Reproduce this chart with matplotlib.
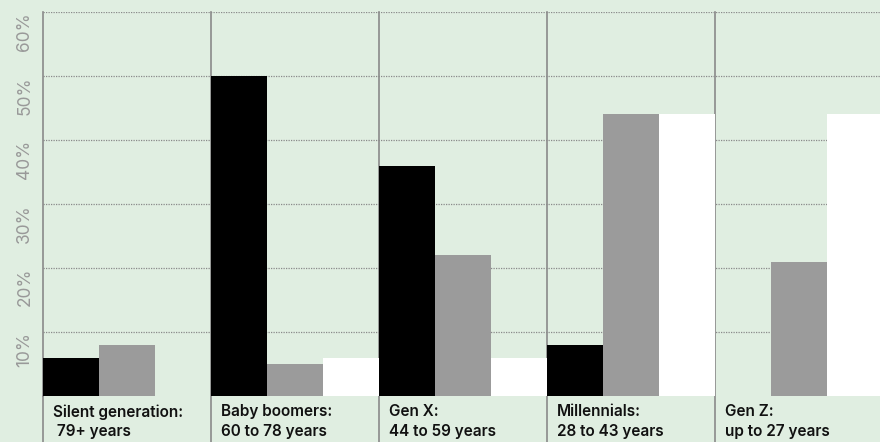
import matplotlib
matplotlib.use("Agg")
import matplotlib.pyplot as plt
import matplotlib.transforms as mtransforms
import numpy as np

plt.rcParams['font.family'] = ['Inter', 'DejaVu Sans']

groups = ["Silent generation:\n 79+ years", "Baby boomers:\n60 to 78 years",
          "Gen X:\n44 to 59 years", "Millennials:\n28 to 43 years",
          "Gen Z:\nup to 27 years"]
series_black = [6, 50, 36, 8, 0]
series_grey = [8, 5, 22, 44, 21]
series_white = [0, 6, 6, 44, 44]
yticks = [10, 20, 30, 40, 50, 60]
ytick_labels = ["10%", "20%", "30%", "40%", "50%", "60%"]

bg = "#e0eee1"
fig = plt.figure(figsize=(8.8, 4.42), dpi=100, facecolor=bg)
W, H = 880, 442
ax = fig.add_axes([43 / W, (442 - 396) / H, (880 - 43) / W, (396 - 12) / H])
ax.set_facecolor(bg)

x = np.arange(len(groups)) * 3
ax.bar(x + 0.5, series_black, width=1.0, color="#000000", zorder=3)
ax.bar(x + 1.5, series_grey, width=1.0, color="#9b9b9b", zorder=3)
ax.bar(x + 2.5, series_white, width=1.0, color="#ffffff", zorder=3)

ax.set_xlim(0, 837 / 56)
ax.set_ylim(0, 60)
ax.set_xticks([])
ax.set_yticks(yticks)
ax.set_yticklabels(ytick_labels, rotation=90, va="top", color="#999999", fontsize=12.5)
ax.tick_params(axis="y", length=0, pad=7)
for s in ["top", "right", "bottom"]:
    ax.spines[s].set_visible(False)
ax.spines["left"].set_color("#8a8a8a")
ax.spines["left"].set_linewidth(1.2)

for t in yticks:
    ax.axhline(t, color="#8a8a8a", linestyle=(0, (1, 1)), linewidth=0.9, zorder=1)

trans = mtransforms.blended_transform_factory(ax.transData, ax.transAxes)
below = -46 / 384
for gx in x[1:]:
    ax.plot([gx, gx], [below, 1], color="#8a8a8a", linewidth=1.2, transform=trans,
            clip_on=False, zorder=2)
ax.plot([0, 0], [below, 0], color="#8a8a8a", linewidth=1.2, transform=trans,
        clip_on=False, zorder=2)

for gx, label in zip(x, groups):
    ax.text(gx + 0.18, -0.022, label, transform=trans, ha="left", va="top",
            fontsize=11, fontweight="semibold", color="#111111", linespacing=1.35)

fig.savefig("out.png", dpi=100, facecolor=bg)
